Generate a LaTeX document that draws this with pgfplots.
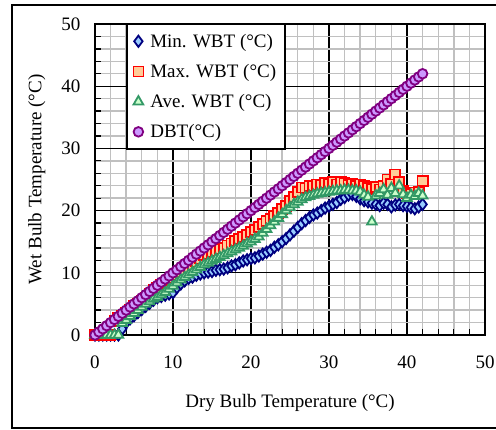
\documentclass[border=0pt]{standalone}
\usepackage{fontspec}
\setmainfont{Liberation Serif}
\usepackage{pgfplots}
\usepackage{pgfplotstable}
\pgfplotsset{compat=1.18}

\definecolor{minedge}{HTML}{000080}
\definecolor{minfill}{HTML}{99CCFF}
\definecolor{maxedge}{HTML}{FF0000}
\definecolor{maxfill}{HTML}{FFCC99}
\definecolor{aveedge}{HTML}{339966}
\definecolor{avefill}{HTML}{CCFFCC}
\definecolor{dbtedge}{HTML}{800080}
\definecolor{dbtfill}{HTML}{CC99FF}
\definecolor{gridgray}{HTML}{C0C0C0}

% dry bulb temperature bins with minimum, maximum and average wet bulb temperature
\pgfplotstableread{
x    min   max   ave   dbt
0.0  0.0   0.0   0.0   0.0
0.5  0.0   0.0   0.0   0.5
1.0  0.0   0.0   0.0   1.0
1.5  0.0   0.0   0.0   1.5
2.0  0.0   0.0   0.0   2.0
2.5  0.0   2.3   0.0   2.5
3.0  0.0   2.7   0.0   3.0
3.5  1.0   3.1   1.9   3.5
4.0  2.0   3.5   2.4   4.0
4.5  2.6   4.0   3.0   4.5
5.0  3.1   4.6   3.5   5.0
5.5  3.6   5.0   4.0   5.5
6.0  4.1   5.5   4.5   6.0
6.5  4.6   6.0   5.0   6.5
7.0  5.1   6.6   5.4   7.0
7.5  5.6   7.2   5.8   7.5
8.0  6.0   7.6   6.1   8.0
8.5  6.2   8.0   6.5   8.5
9.0  6.4   8.4   6.9   9.0
9.5  6.6   8.8   7.4   9.5
10.0 6.8   9.2   7.9   10.0
10.5 7.6   9.7   8.4   10.5
11.0 8.2   10.1  8.9   11.0
11.5 8.7   10.4  9.3   11.5
12.0 9.1   10.8  9.7   12.0
12.5 9.3   11.3  10.1  12.5
13.0 9.6   11.8  10.5  13.0
13.5 9.8   12.3  10.9  13.5
14.0 10.0  12.8  11.3  14.0
14.5 10.1  13.1  11.6  14.5
15.0 10.2  13.4  11.9  15.0
15.5 10.4  13.6  12.2  15.5
16.0 10.5  13.8  12.5  16.0
16.5 10.6  14.0  12.8  16.5
17.0 10.8  14.4  13.1  17.0
17.5 11.1  14.7  13.4  17.5
18.0 11.3  15.1  13.7  18.0
18.5 11.6  15.4  14.0  18.5
19.0 11.9  15.8  14.3  19.0
19.5 12.1  16.1  14.7  19.5
20.0 12.3  16.5  15.0  20.0
20.5 12.4  16.9  15.4  20.5
21.0 12.7  17.4  15.8  21.0
21.5 13.0  17.9  16.4  21.5
22.0 13.3  18.3  17.0  22.0
22.5 13.6  18.7  17.6  22.5
23.0 14.1  19.1  18.2  23.0
23.5 14.5  19.6  18.8  23.5
24.0 15.0  20.2  19.4  24.0
24.5 15.5  20.8  20.0  24.5
25.0 16.1  21.5  20.5  25.0
25.5 16.7  22.2  21.0  25.5
26.0 17.3  23.0  21.4  26.0
26.5 17.9  23.7  21.8  26.5
27.0 18.4  23.6  22.1  27.0
27.5 18.9  24.0  22.3  27.5
28.0 19.3  23.9  22.5  28.0
28.5 19.6  24.2  22.7  28.5
29.0 20.0  24.1  22.8  29.0
29.5 20.4  24.5  22.9  29.5
30.0 20.7  24.3  23.0  30.0
30.5 21.0  24.6  23.1  30.5
31.0 21.3  24.2  23.2  31.0
31.5 21.8  24.6  23.2  31.5
32.0 22.1  24.4  23.3  32.0
32.5 22.5  24.1  23.3  32.5
33.0 22.6  24.3  23.2  33.0
33.5 22.3  24.0  23.2  33.5
34.0 21.9  24.2  23.0  34.0
34.5 21.6  23.9  22.5  34.5
35.0 21.4  23.6  22.2  35.0
35.5 21.2  23.5  18.2  35.5
36.0 21.0  23.8  22.4  36.0
36.5 20.8  23.4  22.8  36.5
37.0 21.2  24.0  23.4  37.0
37.5 21.0  25.0  22.5  37.5
38.0 20.6  24.3  23.6  38.0
38.5 20.9  25.8  22.8  38.5
39.0 21.0  24.6  24.0  39.0
39.5 20.8  23.2  22.6  39.5
40.0 20.7  22.8  22.0  40.0
40.5 20.5  22.7  22.5  40.5
41.0 20.3  22.9  22.3  41.0
41.5 20.6  23.0  22.8  41.5
42.0 21.0  24.8  22.4  42.0
}\wbtdata

\begin{document}
\begin{tikzpicture}[font=\fontsize{19}{22}\selectfont]
\useasboundingbox (-95pt,-95pt) rectangle (401pt,335pt);
\clip (-95pt,-95pt) rectangle (401pt,335pt);
% outer frame
\draw[line width=2pt] (-83pt,-93pt) rectangle (420pt,330pt);
\begin{axis}[
  at={(0pt,0pt)}, anchor=south west,
  scale only axis, width=390pt, height=311pt,
  xmin=0, xmax=50, ymin=0, ymax=50,
  xtick={0,10,...,50}, ytick={0,10,...,50},
  minor tick num=4,
  grid=both,
  major grid style={black, line width=1.3pt},
  minor grid style={gridgray, line width=1.4pt},
  axis line style={line width=1.8pt},
  tick style={black, line width=1.3pt},
  tick align=inside,
  major tick length=6pt, minor tick length=6pt,
  tick pos=left,
  /pgf/number format/assume math mode=true,
  x tick label style={yshift=-17pt},
  y tick label style={xshift=-11pt},
  xlabel={Dry Bulb Temperature (\textdegree C)},
  ylabel={Wet Bulb Temperature (\textdegree C)},
  xlabel style={at={(axis description cs:0.5,-0.2347)}, anchor=base},
  ylabel style={at={(axis description cs:-0.149,0.5)}, anchor=center},
  clip=false,
  legend style={at={(axis description cs:0.0795,1.003)}, anchor=north west,
    draw=black, line width=1.8pt, fill=white,
    inner xsep=6.5pt, inner ysep=8pt, row sep=11.5pt},
  legend cell align=left,
  legend image code/.code={\path (0pt,0pt) (12pt,0pt); \draw[#1] plot coordinates {(3pt,0pt)};},
]
\addplot[only marks, mark=diamond*, mark size=5.6pt,
  mark options={draw=minedge, fill=minfill, line width=1.8pt}]
  table[x=x, y=min] {\wbtdata};
\addlegendentry{Min. WBT (\textdegree C)}
\addplot[only marks, mark=square*, mark size=5pt,
  mark options={draw=maxedge, fill=maxfill, line width=1.8pt}]
  table[x=x, y=max] {\wbtdata};
\addlegendentry{Max. WBT (\textdegree C)}
\addplot[only marks, mark=triangle*, mark size=5.6pt,
  mark options={draw=aveedge, fill=avefill, line width=1.8pt}]
  table[x=x, y=ave] {\wbtdata};
\addlegendentry{Ave. WBT (\textdegree C)}
\addplot[only marks, mark=*, mark size=4.8pt,
  mark options={draw=dbtedge, fill=dbtfill, line width=1.8pt}]
  table[x=x, y=dbt] {\wbtdata};
\addlegendentry{DBT(\textdegree C)}
\end{axis}
\end{tikzpicture}
\end{document}
